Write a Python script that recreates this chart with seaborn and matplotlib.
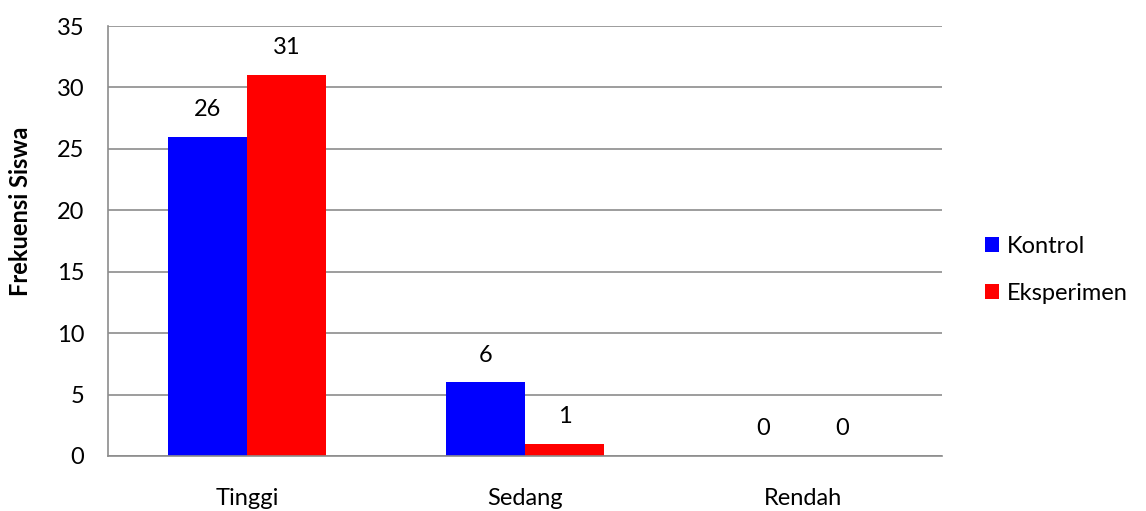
import matplotlib
matplotlib.use("Agg")
import matplotlib.pyplot as plt
import seaborn as sns
import pandas as pd
from matplotlib.patches import Patch

categories = ["Tinggi", "Sedang", "Rendah"]
kontrol = [26, 6, 0]
eksperimen = [31, 1, 0]
series_names = ["Kontrol", "Eksperimen"]
yticks = [0, 5, 10, 15, 20, 25, 30, 35]

df = pd.DataFrame({
    "Kategori": categories * 2,
    "Kelompok": [series_names[0]] * 3 + [series_names[1]] * 3,
    "Frekuensi": kontrol + eksperimen,
})

sns.set_theme(style="white")
plt.rcParams["font.family"] = ["Lato", "DejaVu Sans"]
plt.rcParams["text.color"] = "black"
plt.rcParams["xtick.color"] = "black"
plt.rcParams["ytick.color"] = "black"
plt.rcParams["axes.labelcolor"] = "black"

W, H = 1146, 511
fs = 17
fig = plt.figure(figsize=(W / 100, H / 100), dpi=100)
ax = fig.add_axes([108 / W, 1 - 456 / H, (942 - 108) / W, (456 - 26) / H])

palette = {"Kontrol": "#0000FF", "Eksperimen": "#FF0000"}
sns.barplot(data=df, x="Kategori", y="Frekuensi", hue="Kelompok",
            order=categories, hue_order=series_names, palette=palette,
            width=0.57, gap=0, saturation=1, linewidth=0, ax=ax, legend=False)

grid_color = "#8c8c8c"
ax.set_ylim(0, 35)
ax.set_xlim(-0.5, 2.5)
ax.set_yticks(yticks)
ax.yaxis.grid(True, color=grid_color, linewidth=1.2)
ax.set_axisbelow(True)
for side in ["top", "right"]:
    ax.spines[side].set_visible(False)
for side in ["left", "bottom"]:
    ax.spines[side].set_color(grid_color)
    ax.spines[side].set_linewidth(1.2)

# category labels centred, tick marks on category boundaries
ax.set_xticks([0, 1, 2])
ax.set_xticklabels(categories, fontsize=fs)
ax.tick_params(axis="x", length=0, pad=23)
ax.set_xticks([-0.5, 0.5, 1.5, 2.5], minor=True)
ax.tick_params(axis="x", which="minor", length=6, width=1.2, color=grid_color, direction="out")
ax.tick_params(axis="y", length=6, width=1.2, color=grid_color, direction="out", labelsize=fs, pad=11)
ax.set_xlabel("")
ax.set_ylabel("")
fig.text(21 / W, 1 - 211 / H, "Frekuensi Siswa", rotation=90, ha="center", va="center",
         fontsize=fs, fontweight="bold")

for cont in ax.containers:
    ax.bar_label(cont, labels=[f"{v:g}" for v in cont.datavalues], padding=12, fontsize=fs)

handles = [Patch(facecolor=palette[n], edgecolor="none", label=n) for n in series_names]
fig.legend(handles=handles, loc="center left", bbox_to_anchor=(964 / W, 1 - 270 / H),
           frameon=False, fontsize=fs, handlelength=0.6, handleheight=0.6,
           handletextpad=0.3, labelspacing=1.1)

fig.savefig("out.png", dpi=100)
